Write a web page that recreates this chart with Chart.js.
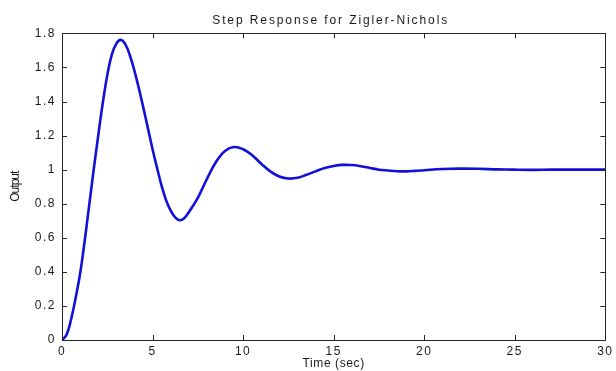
<!DOCTYPE html>
<html>
<head>
<meta charset="utf-8">
<script src="https://cdn.jsdelivr.net/npm/chart.js@4.4.1/dist/chart.umd.min.js"></script>
<style>
html,body{margin:0;padding:0;background:#fff;}
#wrap{width:616px;height:371px;position:relative;}
</style>
</head>
<body>
<div id="wrap"><canvas id="c" width="616" height="371"></canvas></div>
<script>
const chartTitle = 'Step Response for Zigler-Nichols';
const xTitle = 'Time (sec)';
const yTitle = 'Output';
const xTickValues = [0, 5, 10, 15, 20, 25, 30];
const yTickValues = [0, 0.2, 0.4, 0.6, 0.8, 1, 1.2, 1.4, 1.6, 1.8];
const yTickLabels = ['0', '0.2', '0.4', '0.6', '0.8', '1', '1.2', '1.4', '1.6', '1.8'];

const timeSec = [0, 0.25, 0.5, 0.75, 1.0, 1.25, 1.5, 1.75, 2.0, 2.25, 2.5, 2.75, 3.0, 3.25, 3.5, 3.75, 4.0, 4.25, 4.5, 4.75, 5.0, 5.25, 5.5, 5.75, 6.0, 6.25, 6.5, 6.75, 7.0, 7.5, 8.0, 8.5, 9.0, 9.5, 10.0, 10.5, 11.0, 11.5, 12.0, 12.5, 13.0, 13.5, 14.0, 14.5, 15.0, 15.5, 16.0, 16.5, 17.0, 17.5, 18.0, 18.5, 19.0, 19.5, 20, 21, 22, 23, 24, 25, 26, 27, 28, 29, 30];
const output = [0, 0.03, 0.12, 0.245, 0.39, 0.58, 0.79, 1.0, 1.2, 1.39, 1.555, 1.675, 1.74, 1.762, 1.735, 1.67, 1.58, 1.475, 1.36, 1.24, 1.12, 1.01, 0.905, 0.82, 0.76, 0.72, 0.703, 0.715, 0.75, 0.835, 0.945, 1.045, 1.11, 1.133, 1.12, 1.085, 1.035, 0.99, 0.96, 0.948, 0.952, 0.97, 0.99, 1.01, 1.022, 1.028, 1.027, 1.02, 1.01, 1.0, 0.995, 0.991, 0.99, 0.993, 0.997, 1.004, 1.006, 1.005, 1.002, 1.0, 0.999, 1.0, 1.0, 1.0, 1.0];

const points = timeSec.map((t, i) => ({x: t, y: output[i]}));
const axisColor = '#262626';
const textColor = '#1a1a1a';
const fontFamily = 'Liberation Sans, Arial, sans-serif';

function withSpacing(obj, method, spacing, shiftFn) {
  const orig = obj[method];
  obj[method] = function(...args) {
    const ctx = this.ctx;
    ctx.save();
    ctx.letterSpacing = spacing;
    if (shiftFn) ctx.translate(shiftFn(), 0);
    try { return orig.apply(this, args); } finally { ctx.restore(); }
  };
}

const spacingPatch = {
  id: 'spacingPatch',
  beforeDraw(chart) {
    if (chart.$spaced) return;
    chart.$spaced = true;
    withSpacing(chart.scales.x, 'drawLabels', '1.5px');
    withSpacing(chart.scales.y, 'drawLabels', '1.5px');
    withSpacing(chart.scales.x, 'drawTitle', '0.6px');
    withSpacing(chart.scales.y, 'drawTitle', '-1px');
    if (chart.titleBlock) {
      withSpacing(chart.titleBlock, 'draw', '1.9px', () => {
        const a = chart.chartArea;
        return (a.left + a.right) / 2 - chart.width / 2;
      });
    }
  }
};

const frameTicks = {
  id: 'frameTicks',
  afterDatasetsDraw(chart) {
    const ctx = chart.ctx, a = chart.chartArea;
    const xs = chart.scales.x, ys = chart.scales.y;
    const L = 5;
    ctx.save();
    ctx.strokeStyle = axisColor;
    ctx.lineWidth = 1;
    ctx.beginPath();
    xTickValues.forEach(v => {
      const px = Math.round(xs.getPixelForValue(v)) + 0.5;
      ctx.moveTo(px, a.bottom); ctx.lineTo(px, a.bottom - L);
      ctx.moveTo(px, a.top); ctx.lineTo(px, a.top + L);
    });
    yTickValues.forEach(v => {
      const py = Math.round(ys.getPixelForValue(v)) + 0.5;
      ctx.moveTo(a.left, py); ctx.lineTo(a.left + L, py);
      ctx.moveTo(a.right, py); ctx.lineTo(a.right - L, py);
    });
    ctx.stroke();
    ctx.strokeRect(Math.round(a.left) + 0.5, Math.round(a.top) + 0.5, Math.round(a.right - a.left), Math.round(a.bottom - a.top));
    ctx.restore();
  }
};

new Chart(document.getElementById('c'), {
  type: 'line',
  data: {
    datasets: [{
      data: points,
      borderColor: '#1010d8',
      borderWidth: 2.6,
      pointRadius: 0,
      fill: false,
      tension: 0.4
    }]
  },
  options: {
    responsive: false,
    animation: false,
    devicePixelRatio: 1,
    layout: {padding: {left: 0, right: 6, top: 0, bottom: 0}},
    plugins: {
      legend: {display: false},
      tooltip: {enabled: false},
      title: {
        display: true,
        text: chartTitle,
        color: textColor,
        font: {family: fontFamily, size: 12, weight: 'normal'},
        padding: {top: 13, bottom: 6}
      }
    },
    scales: {
      x: {
        type: 'linear',
        min: 0, max: 30,
        afterBuildTicks: s => { s.ticks = xTickValues.map(v => ({value: v})); },
        afterFit: s => { s.height = 31; },
        grid: {display: false, drawTicks: false},
        border: {display: false},
        ticks: {color: textColor, font: {family: fontFamily, size: 12}, padding: 4, maxRotation: 0, autoSkip: false},
        title: {display: true, text: xTitle, color: textColor, font: {family: fontFamily, size: 12}, padding: {top: -1, bottom: 0}}
      },
      y: {
        type: 'linear',
        min: 0, max: 1.8,
        afterBuildTicks: s => { s.ticks = yTickValues.map(v => ({value: v})); },
        afterFit: s => { s.width = 62; },
        grid: {display: false, drawTicks: false},
        border: {display: false},
        ticks: {
          color: textColor, font: {family: fontFamily, size: 12}, padding: 6, autoSkip: false,
          callback: (v, i) => yTickLabels[i]
        },
        title: {display: true, text: yTitle, color: textColor, font: {family: fontFamily, size: 12}, padding: {top: 8, bottom: 0}}
      }
    }
  },
  plugins: [spacingPatch, frameTicks]
});
</script>
</body>
</html>
